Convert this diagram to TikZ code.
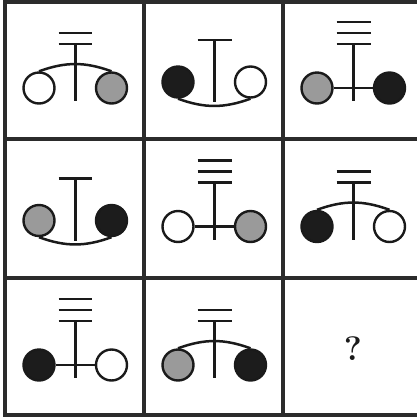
\documentclass[tikz,border=0pt]{standalone}
\usepackage{tikz}
\definecolor{inkline}{HTML}{1A1A1A}
\definecolor{gridline}{HTML}{2B2B2B}
\definecolor{ballgrey}{HTML}{9A9A9A}
\definecolor{ballblack}{HTML}{1C1C1C}
\tikzset{
  grid line/.style={draw=gridline, line width=1.6pt},
  ball/.style={circle, draw=inkline, line width=1.2pt, minimum size=15.5pt, inner sep=0pt},
  rope/.style={draw=inkline, line width=1.25pt},
  bar/.style={draw=inkline, line width=1.4pt},
  ask/.style={font=\fontsize{17}{20}\selectfont\bfseries, text=inkline},
}
% #1 column, #2 row, #3 left fill, #4 right fill, #5 bars, #6 kind (0 straight, 1 over, 2 under)
\newcommand{\pulleycell}[6]{%
  \begin{scope}[shift={(5+139*#1,2+138.5*#2)}]
    \ifnum#6=2 \def\bally{80}\def\bary{38}\def\footy{100}\else\def\bally{86}\def\bary{42}\def\footy{99}\fi
    \node[ball, fill=#3] (l#1#2) at (34,\bally) {};
    \node[ball, fill=#4] (r#1#2) at (106.5,\bally) {};
    \coordinate (t#1#2) at (70.5,\bary);
    \coordinate (f#1#2) at (70.5,\footy);
    \foreach \k in {1,...,#5} \draw[bar] (53.5,\bary-11*\k+11) -- ++(34,0);
    \draw[rope] (t#1#2) -- (f#1#2);
    \ifcase#6 \draw[rope] (l#1#2) -- (r#1#2);
    \or \draw[rope] (l#1#2.north) to[bend left=20] (r#1#2.north);
    \or \draw[rope] (l#1#2.south) to[bend right=20] (r#1#2.south);
    \fi
  \end{scope}}

\begin{document}
\begin{tikzpicture}[x=0.5pt, y=-0.5pt]
  \useasboundingbox (0,0) rectangle (417,419);
  % grid
  \draw[grid line] (417,2) -- (5,2) -- (5,415) -- (417,415);
  \foreach \gx in {144,283} \draw[grid line] (\gx,2) -- (\gx,415);
  \foreach \gy in {139,278} \draw[grid line] (5,\gy) -- (417,\gy);
  % first row
  \pulleycell{0}{0}{white}{ballgrey}{2}{1}
  \pulleycell{1}{0}{ballblack}{white}{1}{2}
  \pulleycell{2}{0}{ballgrey}{ballblack}{3}{0}
  % second row
  \pulleycell{0}{1}{ballgrey}{ballblack}{1}{2}
  \pulleycell{1}{1}{white}{ballgrey}{3}{0}
  \pulleycell{2}{1}{ballblack}{white}{2}{1}
  % third row
  \pulleycell{0}{2}{ballblack}{white}{3}{0}
  \pulleycell{1}{2}{ballgrey}{ballblack}{2}{1}
  \node[ask] (q) at (353,349) {?};
\end{tikzpicture}
\end{document}
